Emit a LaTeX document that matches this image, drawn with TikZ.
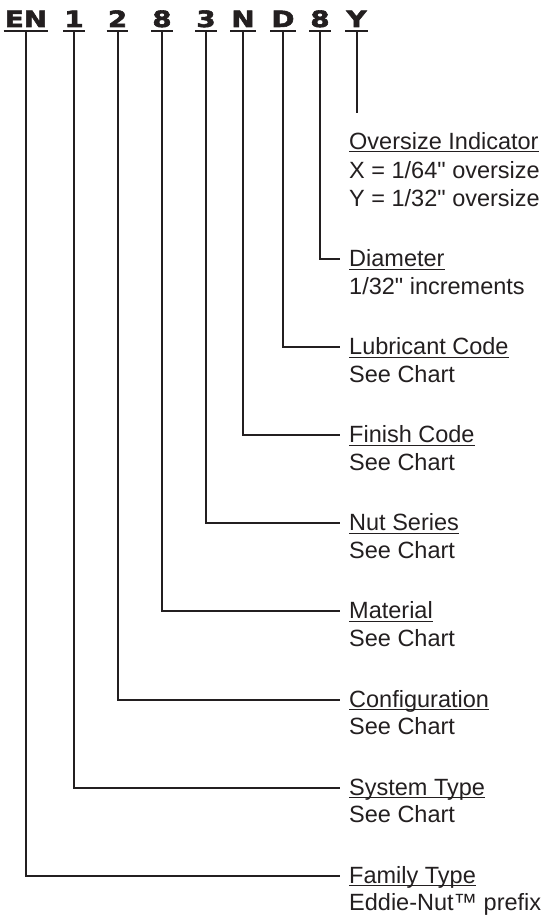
\documentclass[tikz,border=0pt]{standalone}
\usepackage{fontspec}
\setmainfont{Liberation Sans}[Ligatures=TeXOff]
\newfontfamily\hdrfont[FakeStretch=1.24,FakeBold=2.5]{DejaVu Sans Bold}
\definecolor{ink}{HTML}{231F20}
\begin{document}
\begin{tikzpicture}[x=1pt,y=-1pt,
  code/.style={font=\hdrfont\fontsize{22.4}{24}\selectfont, text=ink, anchor=base, inner xsep=1pt, inner ysep=0pt},
  head/.style={font=\fontsize{23.5}{28}\selectfont, text=ink, anchor=base west, inner sep=0pt},
  desc/.style={font=\fontsize{23.5}{28}\selectfont, text=ink, anchor=base west, inner sep=0pt},
  wire/.style={draw=ink, line width=2pt, line join=miter},
  hline/.style={draw=ink, line width=2pt},
  uline/.style={draw=ink, line width=1.1pt}]
\useasboundingbox (0,0) rectangle (545,915);

% part number characters
\node[code] (cEN) at (26,27) {EN};
\node[code] (c1) at (74,27) {1};
\node[code] (c2) at (117.5,27) {2};
\node[code] (c8a) at (162,27) {8};
\node[code] (c3) at (206,27) {3};
\node[code] (cN) at (243,27) {N};
\node[code] (cD) at (283,27) {D};
\node[code] (c8b) at (320,27) {8};
\node[code] (cY) at (356.5,27) {Y};
\foreach \n in {cEN,c1,c2,c8a,c3,cN,cD,c8b,cY}
  \draw[hline] ([yshift=-4pt]\n.base west) -- ([yshift=-4pt]\n.base east);

% elbow ends
\coordinate (eY) at (356.5,113);
\coordinate (eDia) at (340,259);
\coordinate (eLub) at (340,347.1);
\coordinate (eFin) at (340,435.2);
\coordinate (eNut) at (340,523.3);
\coordinate (eMat) at (340,611.4);
\coordinate (eCfg) at (340,699.5);
\coordinate (eSys) at (340,787.6);
\coordinate (eFam) at (340,875.7);

% labels
\node[head] (hOv) at (349,149.3) {Oversize Indicator};
\node[desc] (dOv1) at (349,178.3) {X = 1/64" oversize};
\node[desc] (dOv2) at (349,206.7) {Y = 1/32" oversize};
\node[head] (hDia) at (349,266.5) {Diameter};
\node[desc] (dDia) at (349,294) {1/32" increments};
\node[head] (hLub) at (349,354.6) {Lubricant Code};
\node[desc] (dLub) at (349,382.1) {See Chart};
\node[head] (hFin) at (349,442.7) {Finish Code};
\node[desc] (dFin) at (349,470.2) {See Chart};
\node[head] (hNut) at (349,530.8) {Nut Series};
\node[desc] (dNut) at (349,558.3) {See Chart};
\node[head] (hMat) at (349,618.9) {Material};
\node[desc] (dMat) at (349,646.4) {See Chart};
\node[head] (hCfg) at (349,707) {Configuration};
\node[desc] (dCfg) at (349,734.5) {See Chart};
\node[head] (hSys) at (349,795.1) {System Type};
\node[desc] (dSys) at (349,822.6) {See Chart};
\node[head] (hFam) at (349,883.2) {Family Type};
\node[desc] (dFam) at (349,910.5) {Eddie-Nut™ prefix};
\foreach \n in {hOv,hDia,hLub,hFin,hNut,hMat,hCfg,hSys,hFam}
  \draw[uline] ([yshift=-2.6pt]\n.base west) -- ([yshift=-2.6pt]\n.base east);

% connectors
\draw[wire] ([yshift=-4pt]cY.base) -- (eY);
\draw[wire] ([yshift=-4pt]c8b.base) |- (eDia);
\draw[wire] ([yshift=-4pt]cD.base) |- (eLub);
\draw[wire] ([yshift=-4pt]cN.base) |- (eFin);
\draw[wire] ([yshift=-4pt]c3.base) |- (eNut);
\draw[wire] ([yshift=-4pt]c8a.base) |- (eMat);
\draw[wire] ([yshift=-4pt]c2.base) |- (eCfg);
\draw[wire] ([yshift=-4pt]c1.base) |- (eSys);
\draw[wire] ([yshift=-4pt]cEN.base) |- (eFam);
\end{tikzpicture}
\end{document}
